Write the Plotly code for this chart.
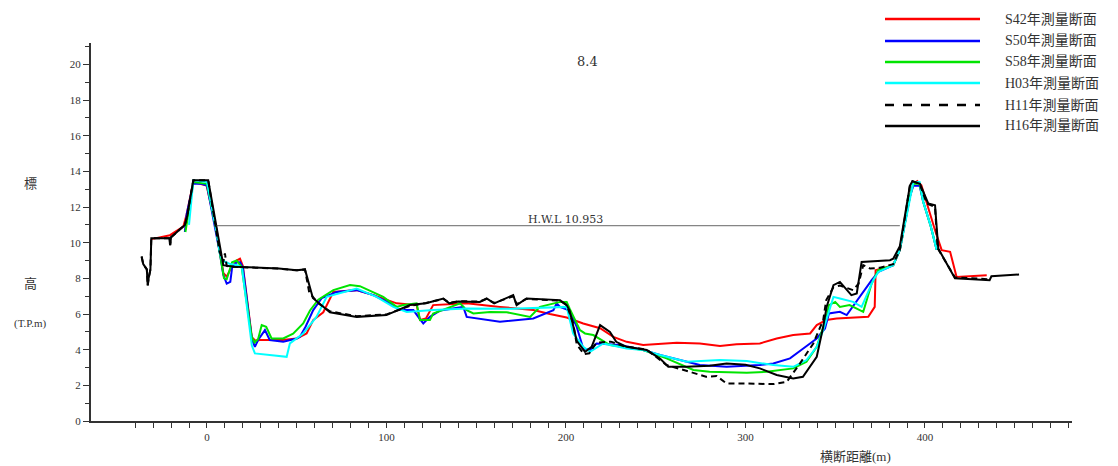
import plotly.graph_objects as go

# ---------------- data (distance m, elevation T.P.m) ----------------
s42_x = [-31, -20.6, -13.2, -11.3, -7.6, -3, -0.2, 5.4, 7.2, 9.1, 11, 13, 16.5, 18.4, 20, 25, 27, 29.5, 42, 50,
         55.5, 59.2, 64.8, 70.4, 83.4, 92.7, 105.7, 116.8, 118.7, 122, 126, 144.7, 163.2, 181.8, 191, 200.4,
         209.6, 219, 226.4, 233.8, 243, 252.4, 261.7, 274.6, 285.8, 295, 308, 317.4, 326.6, 336, 339.7, 345,
         350.8, 368.4, 372, 372.5, 382.3, 386, 391.6, 393.5, 395.7, 398, 401, 405.6, 409.3, 414, 417.6, 434.4]
s42_y = [10.2, 10.42, 10.9, 11.6, 13.4, 13.3, 13.2, 10.7, 9.4, 8.3, 8.1, 8.5, 9.0, 9.1, 8.7, 4.7, 4.5, 4.54, 4.54, 4.63,
         4.91, 5.66, 6.1, 7.24, 7.34, 7.06, 6.6, 6.5, 5.66, 5.75, 6.5, 6.6, 6.4, 6.22, 6.0, 5.8,
         5.47, 5.2, 4.72, 4.44, 4.26, 4.31, 4.39, 4.35, 4.2, 4.3, 4.35, 4.63, 4.82, 4.91, 5.38, 5.66,
         5.75, 5.84, 6.4, 8.46, 8.74, 9.58, 12.57, 13.3, 13.46, 13.22, 12.2, 10.7, 9.58, 9.49, 8.08, 8.18]

s50_x = [-12.3, -11.3, -7.6, -3, 0, 5.4, 7.2, 9.1, 11, 13, 14, 16.5, 18.5, 20, 25, 26.7, 28.5, 32.3, 35, 42.5, 50,
         51.8, 55, 59.2, 64, 72.3, 83.4, 92.7, 102, 107.5, 115, 118, 120.5, 124.2, 130, 142.8, 144.7, 163.2,
         181.8, 193, 194.8, 196.7, 202, 206, 209.6, 213.4, 217, 230, 243, 252.4, 261.7, 274.6, 289.5, 308,
         315.5, 324.8, 332.2, 339.7, 344.3, 346.5, 352.6, 356.4, 370.3, 374, 382.3, 386, 391.6, 393.5, 397,
         399, 403, 406.5]
s50_y = [10.6, 11.6, 13.3, 13.3, 13.2, 10.5, 9.4, 8.2, 7.7, 7.8, 8.6, 8.9, 8.9, 8.6, 4.6, 4.16, 4.54, 5.1, 4.54, 4.44, 4.63,
         4.72, 5.3, 6.22, 6.9, 7.24, 7.34, 7.06, 6.6, 6.22, 6.22, 5.8, 5.47, 5.84, 6.2, 6.4, 5.84, 5.56,
         5.75, 6.22, 6.6, 6.4, 6.2, 5.28, 4.07, 3.98, 4.35, 4.26, 3.98, 3.7, 3.46, 3.14, 3.04, 3.14,
         3.23, 3.51, 4.07, 4.63, 5.19, 6.03, 6.12, 5.94, 7.9, 8.36, 8.74, 9.6, 12.6, 13.2, 13.2,
         12.3, 11.0, 9.6]

s58_x = [-12, -7.6, 0, 5.4, 7.2, 9.5, 11, 12.8, 14, 16.5, 19.3, 24.9, 26.5, 28.5, 30.5, 33, 36, 42.5, 48, 53.6,
         57.4, 62, 70.4, 79.7, 85.2, 98.2, 105.7, 109.4, 116.8, 118.7, 124.2, 126, 135.4, 141, 144.7, 148.4,
         157.7, 167, 180, 185.5, 196.7, 200.4, 202, 207.8, 210.6, 215.2, 224.5, 243, 256, 271, 280, 300.7,
         311.8, 326.6, 334, 339.7, 345.2, 346.5, 350, 352.6, 358, 365.6, 370.3, 374, 382.3, 386, 391.6, 393.5,
         397, 399, 403, 406.5]
s58_y = [10.6, 13.4, 13.3, 10.6, 9.4, 8.0, 7.95, 8.46, 8.9, 9.0, 8.64, 4.72, 4.4, 4.6, 5.38, 5.28, 4.63, 4.63, 4.9, 5.47,
         6.2, 6.8, 7.34, 7.62, 7.56, 6.96, 6.4, 6.5, 6.6, 5.66, 5.66, 6.03, 6.4, 6.6, 6.22, 6.03,
         6.12, 6.1, 5.84, 6.4, 6.68, 6.68, 6.31, 5.1, 4.91, 4.82, 4.26, 3.98, 3.51, 2.86, 2.76, 2.71,
         2.76, 2.95, 3.32, 4.16, 5.84, 6.5, 6.68, 6.4, 6.5, 6.12, 7.71, 8.46, 8.74, 9.6, 12.6, 13.3,
         13.3, 12.3, 11.0, 9.6]

h03_x = [-10, -7.6, 0, 5.4, 7.2, 8.5, 13, 16.5, 19.5, 25, 26.7, 44.4, 46.2, 53.6, 61, 66.7, 83.4, 94.5, 103.8,
         111.3, 126, 144.7, 170, 193, 200.4, 204, 209.6, 213.4, 220.8, 233.8, 243, 252.4, 267.2, 285.8, 300.7,
         315.5, 326.6, 334, 339.7, 343.3, 346.5, 349, 352.6, 360, 364.7, 371.2, 374, 382.3, 386, 391.6, 393.5,
         397, 399, 403, 406.5]
h03_y = [11.0, 13.5, 13.4, 10.6, 9.4, 9.0, 8.8, 8.75, 8.6, 4.23, 3.79, 3.6, 4.35, 4.91, 5.84, 6.96, 7.43, 6.96, 6.4,
         6.12, 6.22, 6.31, 6.3, 6.4, 6.4, 4.91, 4.16, 3.88, 4.35, 4.07, 3.98, 3.7, 3.32, 3.42, 3.36,
         3.14, 3.04, 3.42, 4.16, 5.1, 6.22, 6.96, 6.87, 6.68, 6.4, 7.9, 8.36, 8.74, 9.6, 12.6, 13.4,
         13.4, 12.3, 11.0, 9.6]

h11_x = [-36.4, -35.5, -33.5, -33, -32.5, -31.5, -31, -21, -20.5, -20, -12.3, -11, -7.6, 0.7, 7, 9.1, 10, 11, 13,
         30, 40, 50, 54.6, 57, 62, 68.5, 83.4, 100, 113, 122, 131.7, 135, 140, 152, 155.8, 160, 170.6, 172.5,
         178, 190, 196.7, 200.4, 204, 206, 210, 213, 217, 225, 232, 245, 256, 269, 278, 284, 289.5, 300.7,
         315.5, 323, 330.4, 337.8, 343.3, 345, 349, 352.6, 360, 363, 365.6, 369.4, 375, 382.3, 386, 391.6,
         393, 397, 401, 405.6, 407, 416.7, 436]
h11_y = [9.2, 8.8, 8.5, 7.6, 8.0, 8.5, 10.25, 10.25, 9.86, 10.3, 11.0, 11.5, 13.5, 13.5, 9.5, 8.9, 9.4, 8.7, 8.65,
         8.6, 8.55, 8.45, 8.5, 7.2, 6.6, 6.15, 5.88, 5.98, 6.45, 6.62, 6.85, 6.62, 6.72, 6.7, 6.85, 6.62, 7.0, 6.55,
         6.85, 6.78, 6.75, 6.5, 5.5, 4.3, 3.75, 3.8, 4.4, 4.45, 4.2, 4.0, 3.14, 2.76, 2.48, 2.52, 2.1, 2.1,
         2.07, 2.2, 3.23, 4.35, 5.66, 6.78, 7.5, 7.6, 7.34, 7.7, 8.74, 8.55, 8.6, 8.8, 9.6, 13.2,
         13.45, 13.3, 12.2, 12.0, 9.7, 8.05, 7.95]

h16_x = [-36.4, -35.5, -33.5, -33, -32.5, -31.5, -31, -21, -20.5, -20, -12.3, -11, -7.6, 0.7, 9.1, 15, 30, 40, 50,
         54.6, 59, 68.5, 83.4, 100, 113, 122, 131.7, 135, 140, 152, 155.8, 160, 170.6, 172.5, 178, 190, 196.7,
         200.4, 202, 206, 210.6, 214.3, 219, 224.5, 228, 233.8, 245, 252.4, 257, 267, 280, 289.5, 300, 308,
         317.4, 326.6, 332, 339.7, 343.3, 345.2, 349, 352.6, 359, 362, 364.7, 380.5, 382.3, 386, 391.6, 393,
         397.2, 401.8, 405.6, 407.4, 416.7, 436, 437, 452.4]
h16_y = [9.24, 8.8, 8.5, 7.6, 8.0, 8.5, 10.25, 10.25, 9.86, 10.3, 11.0, 11.5, 13.5, 13.5, 8.74, 8.65, 8.6, 8.55, 8.45,
         8.5, 6.9, 6.1, 5.84, 5.94, 6.5, 6.6, 6.87, 6.6, 6.7, 6.68, 6.87, 6.6, 7.06, 6.5, 6.87, 6.8, 6.78,
         6.5, 6.2, 4.5, 3.88, 4.16, 5.38, 5.0, 4.44, 4.16, 3.98, 3.5, 3.04, 3.04, 3.1, 3.23, 3.15, 2.95,
         2.58, 2.39, 2.48, 3.6, 5.28, 6.4, 7.62, 7.8, 7.06, 7.15, 8.92, 9.02, 9.1, 9.8, 13.2, 13.45,
         13.3, 12.2, 12.1, 9.67, 8.0, 7.9, 8.12, 8.22]

series_names = ["S42年測量断面", "S50年測量断面", "S58年測量断面", "H03年測量断面", "H11年測量断面", "H16年測量断面"]
series_x = [s42_x, s50_x, s58_x, h03_x, h11_x, h16_x]
series_y = [s42_y, s50_y, s58_y, h03_y, h11_y, h16_y]
series_colors = ["#ff0000", "#0000ff", "#00e400", "#00ffff", "#000000", "#000000"]
series_dash = ["solid", "solid", "solid", "solid", "6px,4px", "solid"]

hwl_value = 10.953
hwl_x = [5.4, 386]
hwl_label = "H.W.L 10.953"
section_title = "8.4"

x_tick_vals = list(range(-40, 481, 10))
x_tick_text = [str(v) if v % 100 == 0 and v >= 0 else "" for v in x_tick_vals]
y_tick_vals = list(range(0, 21, 2))

# ---------------- layout geometry ----------------
OFF = 8                       # default page body margin
W, H = 1118 - OFF, 466 - OFF  # figure size
L, R, T, B = 91, 1072, 43, 421   # plot area in page pixels

def px(xp):
    return (xp - L) / (R - L)

def py(yp):
    return (B - yp) / (B - T)

FONT = "Liberation Serif, Noto Sans CJK JP, serif"
WFONT = "DejaVu Serif, Noto Sans CJK JP, serif"
TXT = "#333333"

fig = go.Figure()
for name, xs, ys, c, d in zip(series_names, series_x, series_y, series_colors, series_dash):
    fig.add_trace(go.Scatter(x=xs, y=ys, mode="lines", name=name,
                             line=dict(color=c, width=2, dash=d), showlegend=False))

# H.W.L line
fig.add_trace(go.Scatter(x=hwl_x, y=[hwl_value, hwl_value], mode="lines",
                         line=dict(color="#666666", width=1), showlegend=False, hoverinfo="skip"))

def label(text, xp, yp, size, family=FONT):
    return dict(text=text, x=px(xp), y=py(yp), xref="paper", yref="paper", showarrow=False,
                xanchor="center", yanchor="middle", font=dict(family=family, size=size, color=TXT))

annotations = [
    label(section_title, 587, 62, 13, WFONT),
    dict(text=hwl_label, x=px(565), y=hwl_value, xref="paper", yref="y", showarrow=False,
         xanchor="center", yanchor="bottom", yshift=-2, font=dict(family=WFONT, size=11, color=TXT)),
    label("標", 30, 183, 13),
    label("高", 30, 283, 13),
    label("(T.P.m)", 30, 323, 11),
    label("横断距離(m)", 855, 456, 13),
]

# manual legend (long line samples)
shapes = []
legend_rows = [19, 41, 62, 83, 105, 126]
for name, c, d, yr in zip(series_names, series_colors, series_dash, legend_rows):
    shapes.append(dict(type="line", xref="paper", yref="paper", x0=px(885), x1=px(980),
                       y0=py(yr), y1=py(yr), line=dict(color=c, width=2.5,
                                                       dash="dash" if d != "solid" else "solid")))
    annotations.append(dict(text=name, x=px(1003), y=py(yr), xref="paper", yref="paper",
                            xanchor="left", yanchor="middle", showarrow=False,
                            font=dict(family=FONT, size=14, color=TXT)))

fig.update_layout(
    width=W, height=H,
    margin=dict(l=L - OFF, r=W - (R - OFF), t=T - OFF, b=H - (B - OFF), pad=0),
    paper_bgcolor="white", plot_bgcolor="white",
    showlegend=False,
    annotations=annotations, shapes=shapes,
    xaxis=dict(range=[-64.6, 481.9], showgrid=False, zeroline=False,
               showline=True, linecolor="#333333", linewidth=2,
               ticks="outside", ticklen=5, tickwidth=1, tickcolor="#333333",
               tickvals=x_tick_vals, ticktext=x_tick_text,
               tickfont=dict(family=FONT, size=11, color=TXT)),
    yaxis=dict(range=[0, 21.2], showgrid=False, zeroline=False,
               showline=True, linecolor="#333333", linewidth=2,
               ticks="outside", ticklen=6, tickwidth=1, tickcolor="#333333",
               tickvals=y_tick_vals,
               minor=dict(dtick=1, ticks="outside", ticklen=4, tickcolor="#333333", showgrid=False),
               tickfont=dict(family=FONT, size=11, color=TXT)),
)

fig.write_html("out.html")
